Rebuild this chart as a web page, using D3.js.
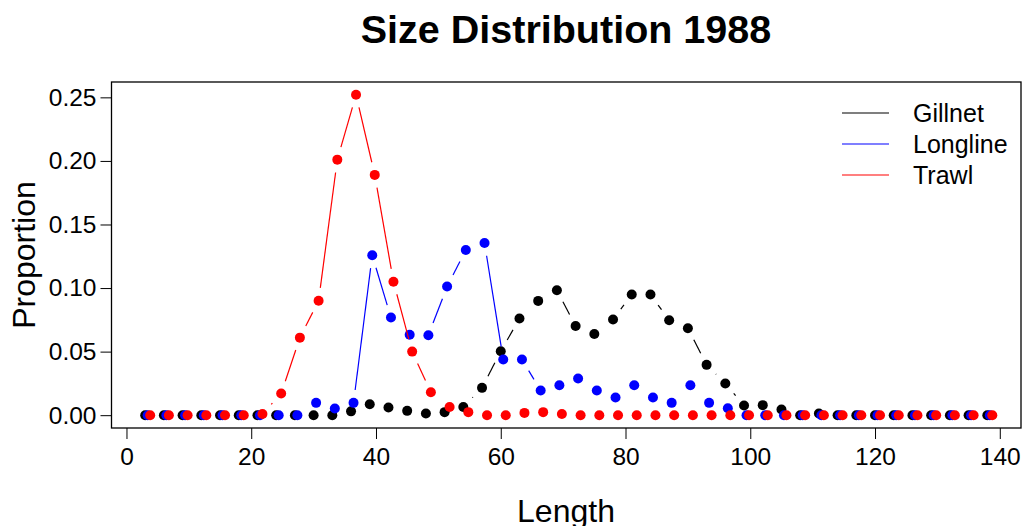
<!DOCTYPE html>
<html>
<head>
<meta charset="utf-8">
<script src="https://cdn.jsdelivr.net/npm/d3@7"></script>
<style>
  body { margin: 0; background: #fff; }
  svg { font-family: "Liberation Sans", Arial, sans-serif; }
</style>
</head>
<body>
<div class="chart"></div>
<script>
// length bins (cm)
const lengths = [3,6,9,12,15,18,21,24,27,30,33,36,39,42,45,48,51,54,57,60,63,66,69,72,75,78,81,84,87,90,93,96,99,102,105,108,111,114,117,120,123,126,129,132,135,138];

const gillnet = [0,0,0,0,0,0,0,0,0,0,0,
  0.003,0.0086,0.006,0.0034,0.0013,0.0024,0.0065,0.0215,0.0503,0.076,0.0899,0.0983,0.0702,0.0639,0.0752,0.0949,0.0949,0.0747,0.0684,0.0396,0.0249,0.0076,0.0079,0.0045,0,0.0013,
  0,0,0,0,0,0,0,0,0];
const longline = [0,0,0,0,0,0,0,0,0,
  0.0097,0.0052,0.0097,0.1258,0.0768,0.0632,0.0629,0.1012,0.130,0.1355,0.0438,0.0438,0.0194,0.0236,0.0288,0.0194,0.0139,0.0236,0.0139,0.0097,0.0236,0.0097,0.0055,
  0,0,0,0,0,0,0,0,0,0,0,0,0,0];
const trawl = [0,0,0,0,0,0,
  0.001,0.017,0.061,0.090,0.201,0.252,0.189,0.105,0.050,0.018,0.0065,0.0024,0,0,0.0018,0.0024,0.001,
  0,0,0,0,0,0,0,0,0,0,0,0,0,0,0,0,0,0,0,0,0,0,0];

const seriesNames = ["Gillnet", "Longline", "Trawl"];
const seriesColors = ["#000000", "#0000ff", "#ff0000"];
const seriesShift = [0, 0.4, 0.8]; // small horizontal offset between gears
const xTicks = [0,20,40,60,80,100,120,140];
const yTicks = [0,0.05,0.10,0.15,0.20,0.25];

const W = 1024, H = 526;
const svg = d3.select(".chart").append("svg")
  .attr("width", W).attr("height", H);

// R style 4% padding
const x = d3.scaleLinear().domain([-2.4, 143.4]).range([111.5, 1021]);
const y = d3.scaleLinear().domain([-0.01008, 0.26208]).range([428, 82]);

// title
svg.append("text")
  .attr("x", 566).attr("y", 43)
  .attr("text-anchor", "middle")
  .attr("font-weight", "bold")
  .attr("font-size", 39.5)
  .text("Size Distribution 1988");

// axes
const xAxis = svg.append("g")
  .attr("transform", "translate(0,428)")
  .call(d3.axisBottom(x).tickValues(xTicks).tickSize(11).tickPadding(5).tickFormat(d3.format("d")));
const yAxis = svg.append("g")
  .attr("transform", "translate(111.5,0)")
  .call(d3.axisLeft(y).tickValues(yTicks).tickSize(11).tickPadding(4).tickFormat(d3.format(".2f")));
[xAxis, yAxis].forEach(a => {
  a.select(".domain").remove();
  a.selectAll("line").attr("stroke", "#000");
  a.selectAll("text").attr("font-size", 24.5).attr("fill", "#000")
    .attr("font-family", "Liberation Sans, Arial, sans-serif");
});
xAxis.selectAll("text").attr("dy", "0.85em");

// box
svg.append("rect")
  .attr("x", 111.5).attr("y", 82)
  .attr("width", 1021 - 111.5).attr("height", 428 - 82)
  .attr("fill", "none").attr("stroke", "#000").attr("stroke-width", 1.3);

// axis titles
svg.append("text")
  .attr("x", 566).attr("y", 522)
  .attr("text-anchor", "middle").attr("font-size", 32)
  .text("Length");
svg.append("text")
  .attr("transform", "translate(35,255) rotate(-90)")
  .attr("text-anchor", "middle").attr("font-size", 32)
  .text("Proportion");

// type="b": segments with gaps around points
const gap = 13;
[gillnet, longline, trawl].forEach((vals, si) => {
  const pts = vals.map((v, i) => [x(lengths[i] + seriesShift[si]), y(v)]);
  const g = svg.append("g");
  for (let i = 0; i < pts.length - 1; i++) {
    const [x1, y1] = pts[i], [x2, y2] = pts[i + 1];
    const d = Math.hypot(x2 - x1, y2 - y1);
    if (d <= 2 * gap) continue;
    const ux = (x2 - x1) / d, uy = (y2 - y1) / d;
    g.append("line")
      .attr("x1", x1 + ux * gap).attr("y1", y1 + uy * gap)
      .attr("x2", x2 - ux * gap).attr("y2", y2 - uy * gap)
      .attr("stroke", seriesColors[si]).attr("stroke-width", 1.2);
  }
  g.selectAll("circle")
    .data(pts)
    .enter().append("circle")
    .attr("cx", d => d[0]).attr("cy", d => d[1])
    .attr("r", 5)
    .attr("fill", seriesColors[si]);
});

// legend
const legend = svg.append("g");
seriesNames.forEach((name, i) => {
  const ly = 113 + i * 31;
  legend.append("line")
    .attr("x1", 842).attr("x2", 889).attr("y1", ly).attr("y2", ly)
    .attr("stroke", seriesColors[i]).attr("stroke-width", 1.2);
  legend.append("text")
    .attr("x", 913).attr("y", ly).attr("dy", "0.35em")
    .attr("font-size", 25)
    .text(name);
});
</script>
</body>
</html>
